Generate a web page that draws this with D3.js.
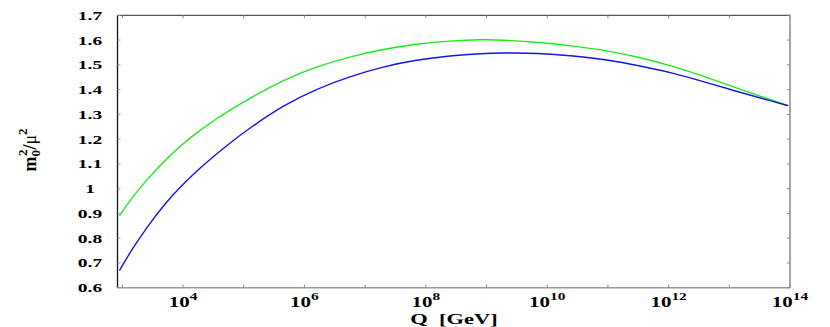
<!DOCTYPE html>
<html><head><meta charset="utf-8">
<script src="https://cdn.jsdelivr.net/npm/d3@7"></script>
<style>body{margin:0;background:#fff}svg{display:block}</style>
</head><body>
<svg id="c" width="830" height="327"></svg>
<script>
// log10(Q [GeV]) sample points
const logQ = [2.952, 3.149, 3.423, 3.698, 3.974, 4.247, 4.523, 4.798, 5.099, 5.648, 6.199, 6.748, 7.297, 7.847, 8.396, 8.945, 9.22, 9.879, 10.43, 10.98, 11.53, 12.077, 12.63, 13.176, 13.72, 13.97];
const greenSeries = [0.890, 0.961, 1.042, 1.113, 1.177, 1.230, 1.278, 1.321, 1.365, 1.439, 1.493, 1.533, 1.563, 1.585, 1.597, 1.602, 1.601, 1.591, 1.576, 1.558, 1.530, 1.494, 1.450, 1.401, 1.356, 1.335];
const blueSeries  = [0.669, 0.752, 0.851, 0.938, 1.012, 1.076, 1.134, 1.189, 1.245, 1.336, 1.403, 1.453, 1.493, 1.520, 1.537, 1.546, 1.548, 1.548, 1.536, 1.521, 1.496, 1.467, 1.428, 1.389, 1.352, 1.335];
const yTicks = [0.6, 0.7, 0.8, 0.9, 1, 1.1, 1.2, 1.3, 1.4, 1.5, 1.6, 1.7];
const yTickLabels = ["0.6","0.7","0.8","0.9","1","1.1","1.2","1.3","1.4","1.5","1.6","1.7"];
const xLabelExps = [4, 6, 8, 10, 12, 14];
const xTickExps = [3,4,5,6,7,8,9,10,11,12,13,14];

const L = 117.5, R = 790, T = 15.3, B = 287.7;
const x = d3.scaleLog().domain([Math.pow(10,2.92), 1e14]).range([L, R]);
const y = d3.scaleLinear().domain([0.6, 1.7]).range([B, T]);
const svg = d3.select("#c");
const font = "'Liberation Serif','Times New Roman',serif";

// frame
svg.append("line").attr("x1",L).attr("x2",R).attr("y1",T).attr("y2",T).attr("stroke","#555").attr("stroke-width",1.2);
svg.append("line").attr("x1",L).attr("x2",R).attr("y1",B).attr("y2",B).attr("stroke","#999").attr("stroke-width",1.5);
svg.append("line").attr("x1",R).attr("x2",R).attr("y1",T).attr("y2",B).attr("stroke","#888").attr("stroke-width",1.5);
svg.append("line").attr("x1",L).attr("x2",L).attr("y1",T).attr("y2",B).attr("stroke","#111").attr("stroke-width",1.3);

// y ticks (left & right, inward)
yTicks.forEach(v => {
  svg.append("line").attr("x1",L).attr("x2",L+3).attr("y1",y(v)).attr("y2",y(v)).attr("stroke","#999");
  svg.append("line").attr("x1",R-3).attr("x2",R).attr("y1",y(v)).attr("y2",y(v)).attr("stroke","#888");
});
// x ticks (top & bottom, inward)
xTickExps.forEach(e => {
  const xv = x(Math.pow(10,e));
  svg.append("line").attr("x1",xv).attr("x2",xv).attr("y1",B).attr("y2",B-3).attr("stroke","#888");
  svg.append("line").attr("x1",xv).attr("x2",xv).attr("y1",T).attr("y2",T+3).attr("stroke","#888");
});

// y tick labels
yTicks.forEach((v,i) => {
  svg.append("text").attr("transform",`translate(90,${y(v)+4.5}) scale(1.5,1)`)
    .attr("text-anchor","middle").attr("font-family",font).attr("font-weight","bold")
    .attr("font-size",13).attr("fill","#000").text(yTickLabels[i]);
});
// x tick labels
xLabelExps.forEach(e => {
  const t = svg.append("text").attr("transform",`translate(${x(Math.pow(10,e))},307) scale(1.4,1)`)
    .attr("text-anchor","middle").attr("font-family",font).attr("font-weight","bold")
    .attr("font-size",15).attr("fill","#000");
  t.append("tspan").text("10");
  t.append("tspan").attr("dy",-7).attr("font-size",11).text(String(e));
});

// axis titles
svg.append("text").attr("transform",`translate(454,324) scale(1.5,1)`).attr("text-anchor","middle")
  .attr("font-family",font).attr("font-weight","bold").attr("font-size",15).attr("fill","#000")
  .attr("xml:space","preserve").text("Q  [GeV]");
const yl = svg.append("text").attr("transform","translate(36,150) rotate(-90)").attr("text-anchor","middle")
  .attr("font-family",font).attr("font-weight","bold").attr("font-size",18).attr("fill","#000");
yl.append("tspan").text("m");
yl.append("tspan").attr("font-size",13).attr("dy",4).text("0");
yl.append("tspan").attr("font-size",13).attr("dx",-6).attr("dy",-13).text("2");
yl.append("tspan").attr("dy",9).text("/");
yl.append("tspan").attr("font-weight","normal").text("μ");
yl.append("tspan").attr("font-size",13).attr("dy",-9).text("2");

// curves
const line = d3.line().x(d => x(Math.pow(10,d[0]))).y(d => y(d[1])).curve(d3.curveBasis);
svg.append("path").datum(logQ.map((q,i)=>[q,greenSeries[i]])).attr("d",line)
  .attr("fill","none").attr("stroke","#1ee81e").attr("stroke-width",1.4);
svg.append("path").datum(logQ.map((q,i)=>[q,blueSeries[i]])).attr("d",line)
  .attr("fill","none").attr("stroke","#1414e6").attr("stroke-width",1.4);
</script>
</body></html>
